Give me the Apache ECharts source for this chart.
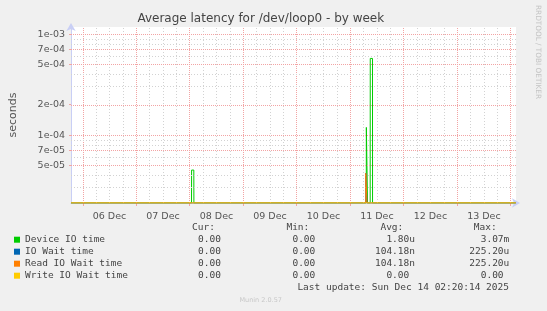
<!DOCTYPE html>
<html>
<head>
<meta charset="utf-8">
<script src="https://cdn.jsdelivr.net/npm/echarts@6/dist/echarts.min.js"></script>
<style>
html,body{margin:0;padding:0;background:#f0f0f0;}
#chart{width:547px;height:311px;}
</style>
</head>
<body>
<div id="chart"></div>
<script>
// ---- data (times as "MM-DD HH:MM", values in seconds) ----
const seriesNames = ['Device IO time', 'IO Wait time', 'Read IO Wait time', 'Write IO Wait time'];
const seriesColors = ['#00cc00', '#0066b3', '#ff8000', '#ffcc00'];

const deviceIO = [
  ['12-05 18:43', 0], ['12-08 00:48', 0], ['12-08 00:50', 4.5e-5], ['12-08 01:50', 4.5e-5], ['12-08 01:52', 0],
  ['12-11 07:13', 0], ['12-11 07:15', 1.19e-4], ['12-11 07:45', 1.19e-4], ['12-11 07:47', 0],
  ['12-11 08:58', 0], ['12-11 09:00', 5.74e-4], ['12-11 10:00', 5.74e-4], ['12-11 10:02', 0],
  ['12-14 02:20', 0]
];
const ioWait = [
  ['12-05 18:43', 0], ['12-11 06:58', 0], ['12-11 07:00', 4.18e-5], ['12-11 07:30', 4.18e-5], ['12-11 07:32', 0],
  ['12-14 02:20', 0]
];
const readIOWait = [
  ['12-05 18:43', 0], ['12-11 06:58', 0], ['12-11 07:00', 4.18e-5], ['12-11 07:30', 4.18e-5], ['12-11 07:32', 0],
  ['12-14 02:20', 0]
];
const writeIOWait = [
  ['12-05 18:43', 0], ['12-14 02:20', 0]
];

const xDayLabels = ['06 Dec', '07 Dec', '08 Dec', '09 Dec', '10 Dec', '11 Dec', '12 Dec', '13 Dec'];
const yTickLabels = ['5e-05', '7e-05', '1e-04', '2e-04', '5e-04', '7e-04', '1e-03'];
const yMinorTicks = [3e-5, 4e-5, 6e-5, 8e-5, 9e-5, 3e-4, 4e-4, 6e-4, 8e-4, 9e-4];

const statHeaders = ['Cur:', 'Min:', 'Avg:', 'Max:'];
const statCur = ['0.00', '0.00', '0.00', '0.00'];
const statMin = ['0.00', '0.00', '0.00', '0.00'];
const statAvg = ['1.80u', '104.18n', '104.18n', '0.00'];
const statMax = ['3.07m', '225.20u', '225.20u', '0.00'];
const lastUpdate = 'Last update: Sun Dec 14 02:20:14 2025';

// axis range: x in days since Dec 05 00:00, y in log10(seconds)
const xMin = 0.78, xMax = 9.10;
const yMin = -4.673, yMax = -2.93;

// ---- helpers ----
function toDay(s) {
  const m = s.match(/(\d+)-(\d+) (\d+):(\d+)/);
  return (+m[2] - 5) + (+m[3]) / 24 + (+m[4]) / 1440;
}
function toLog(v) { return v > 0 ? Math.log10(v) : yMin; }
function build(arr) { return arr.map(p => [toDay(p[0]), toLog(p[1])]); }

const RED = '#f2a4a4', GRAY = '#d2d2d2', AXIS = '#c9cff5';
const FONT = 'DejaVu Sans', MONO = 'DejaVu Sans Mono';

const yMajorVals = yTickLabels.map(t => Math.log10(Number(t)));
const xDayVals = xDayLabels.map((_, i) => i + 1.5);

const gridLines = [];
for (let d = 1; d <= 9; d++) {
  gridLines.push({ xAxis: d, lineStyle: { color: RED, type: [1, 1], width: 1 } });
  [0.25, 0.5, 0.75].forEach(q => {
    const v = d + q;
    if (v < xMax) gridLines.push({ xAxis: v, lineStyle: { color: GRAY, type: [1, 2], width: 1 } });
  });
}
yMinorTicks.forEach(v => gridLines.push({ yAxis: Math.log10(v), lineStyle: { color: GRAY, type: [1, 2], width: 1 } }));
yMajorVals.forEach(v => gridLines.push({ yAxis: v, lineStyle: { color: RED, type: [1, 1], width: 1 } }));

const seriesData = [deviceIO, ioWait, readIOWait, writeIOWait];
const series = [{
  type: 'line', name: '_grid', data: [[xMin, yMin]], symbol: 'none', lineStyle: { width: 0 },
  silent: true, z: 1, legendHoverLink: false,
  markLine: { silent: true, symbol: 'none', label: { show: false }, animation: false, data: gridLines }
}];
seriesData.forEach((d, i) => series.push({
  type: 'line', name: seriesNames[i], data: build(d), symbol: 'none', z: 3 + i,
  lineStyle: { width: 1, color: seriesColors[i] }, itemStyle: { color: seriesColors[i] },
  animation: false, clip: true
}));

// stats table
const graphics = [];
const colEnds = [221, 315.3, 415, 509.3];
const headerEnds = [215, 309.3, 403.3, 496.7];
const charW = 5.72;
const rowY = [239.7, 251.7, 263.7, 275.7];
const cols = [statCur, statMin, statAvg, statMax];
statHeaders.forEach((h, c) => graphics.push({
  type: 'text', silent: true,
  style: { text: h, x: headerEnds[c], y: 227.3, textAlign: 'right', textVerticalAlign: 'middle',
           font: '9.5px "' + MONO + '"', fill: '#444' }
}));
cols.forEach((col, c) => col.forEach((v, r) => {
  const hasUnit = /[a-zA-Z]$/.test(v);
  const end = (c < 2) ? colEnds[c] : (hasUnit ? colEnds[c] : colEnds[c] - charW);
  graphics.push({
    type: 'text', silent: true,
    style: { text: v, x: end, y: rowY[r], textAlign: 'right', textVerticalAlign: 'middle',
             font: '9.5px "' + MONO + '"', fill: '#444' }
  });
}));
graphics.push({
  type: 'text', silent: true,
  style: { text: lastUpdate, x: 509, y: 287.7, textAlign: 'right', textVerticalAlign: 'middle',
           font: '9.5px "' + MONO + '"', fill: '#444' }
});
graphics.push({
  type: 'text', silent: true,
  style: { text: 'Munin 2.0.57', x: 260.7, y: 300.3, textAlign: 'center', textVerticalAlign: 'middle',
           font: '6.5px "' + FONT + '"', fill: '#c8c8c8' }
});
graphics.push({
  type: 'text', silent: true, x: 537.5, y: 5, rotation: -Math.PI / 2,
  style: { text: 'RRDTOOL / TOBI OETIKER', x: 0, y: 0, textAlign: 'left', textVerticalAlign: 'middle',
           font: '7.3px "' + FONT + '"', fill: '#c4c4c4' }
});
graphics.push({
  type: 'text', silent: true,
  style: { text: 'Average latency for /dev/loop0 - by week', x: 260.8, y: 19, textAlign: 'center',
           textVerticalAlign: 'middle', font: '12px "' + FONT + '"', fill: '#444' }
});

const option = {
  backgroundColor: '#f0f0f0',
  animation: false,
  grid: { left: 66, top: 27, width: 450, height: 176, show: true, backgroundColor: '#ffffff', borderWidth: 0, containLabel: false },
  legend: {
    data: seriesNames, orient: 'vertical', left: 14, top: 233.7, icon: 'rect', itemWidth: 6, itemHeight: 6,
    itemGap: 0, padding: 0, selectedMode: false,
    textStyle: { fontFamily: MONO, fontSize: 9.5, color: '#444', lineHeight: 12 }
  },
  xAxis: {
    type: 'value', min: xMin, max: xMax,
    axisLine: { show: true, lineStyle: { color: AXIS, width: 1 }, symbol: ['none', 'arrow'], symbolSize: [7, 8], symbolOffset: [0, 4] },
    axisTick: { show: true, customValues: [1, 2, 3, 4, 5, 6, 7, 8, 9], length: 3, lineStyle: { color: RED } },
    splitLine: { show: false },
    axisLabel: {
      customValues: xDayVals, margin: 9, fontFamily: FONT, fontSize: 9.5, color: '#555',
      formatter: v => { const i = Math.round(v - 1.5); return xDayLabels[i] || ''; }
    }
  },
  yAxis: {
    type: 'value', min: yMin, max: yMax,
    name: 'seconds', nameLocation: 'middle', nameGap: 52,
    nameTextStyle: { fontFamily: FONT, fontSize: 11, color: '#555' },
    axisLine: { show: true, lineStyle: { color: AXIS, width: 1 }, symbol: ['none', 'arrow'], symbolSize: [7, 8], symbolOffset: [0, 4] },
    axisTick: { show: true, customValues: yMajorVals, length: 2, lineStyle: { color: RED } },
    splitLine: { show: false },
    axisLabel: {
      customValues: yMajorVals, margin: 6, fontFamily: FONT, fontSize: 9.5, color: '#555',
      formatter: v => { let best = ''; yMajorVals.forEach((m, i) => { if (Math.abs(m - v) < 1e-6) best = yTickLabels[i]; }); return best; }
    }
  },
  series: series,
  graphic: graphics
};

const chart = echarts.init(document.getElementById('chart'), null, { renderer: 'canvas' });
chart.setOption(option);
</script>
</body>
</html>
